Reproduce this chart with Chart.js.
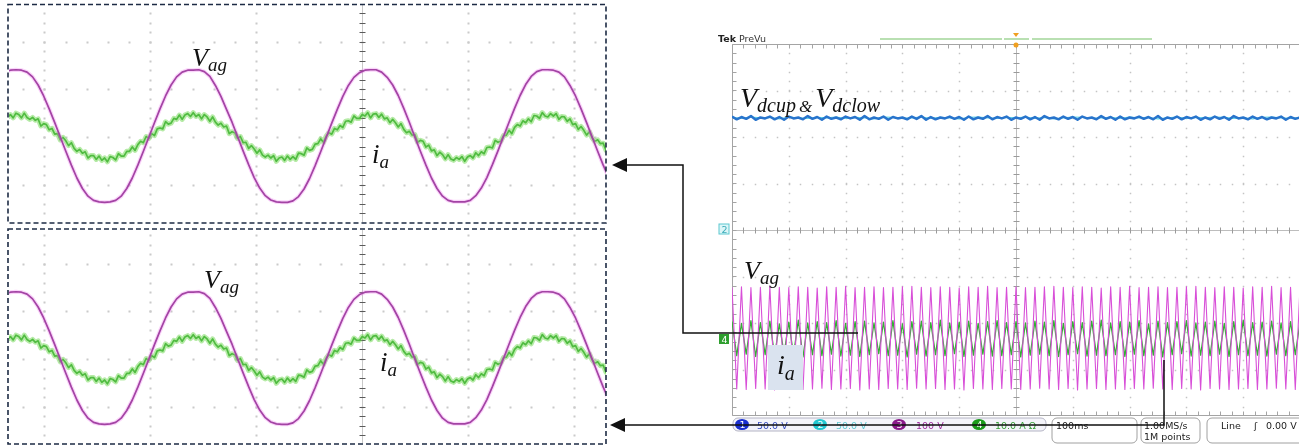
<!DOCTYPE html>
<html>
<head>
<meta charset="utf-8">
<title>Vag / ia waveforms</title>
<script src="https://cdn.jsdelivr.net/npm/chart.js@4.4.1/dist/chart.umd.min.js"></script>
<style>
  html, body { margin: 0; padding: 0; background: #fff; }
  body { position: relative; width: 1299px; height: 446px; overflow: hidden; }
  canvas { position: absolute; }
  #zoomTop { left: 9px; top: 5px; }
  #zoomBottom { left: 9px; top: 230px; }
  #scope { left: 732px; top: 44px; }
  svg { position: absolute; left: 0; top: 0; }
  .lbl { font-family: "Liberation Serif", "Times New Roman", serif; font-style: italic; fill: #111; }
  .ui { font-family: "DejaVu Sans", sans-serif; font-size: 9.5px; }
</style>
</head>
<body>
<canvas id="zoomTop" width="597" height="217"></canvas>
<canvas id="zoomBottom" width="597" height="213"></canvas>
<canvas id="scope" width="568" height="372"></canvas>

<svg width="1299" height="446">
  <!-- zoom windows -->
  <rect x="8" y="4.5" width="598" height="218.5" fill="none" stroke="#1d2b44" stroke-width="1.6" stroke-dasharray="5 3"/>
  <rect x="8" y="229" width="598" height="215" fill="none" stroke="#1d2b44" stroke-width="1.6" stroke-dasharray="5 3"/>

  <text class="lbl" x="192" y="66" font-size="26">V<tspan font-size="19" dy="5">ag</tspan></text>
  <text class="lbl" x="372" y="163" font-size="27">i<tspan font-size="19" dy="5">a</tspan></text>
  <text class="lbl" x="204" y="288" font-size="26">V<tspan font-size="19" dy="5">ag</tspan></text>
  <text class="lbl" x="380" y="371" font-size="27">i<tspan font-size="19" dy="5">a</tspan></text>

  <!-- scope header -->
  <text class="ui" x="718" y="42" font-size="11" font-weight="bold" fill="#222">Tek</text>
  <text class="ui" x="739" y="42" font-size="9" fill="#333">PreVu</text>
  <line x1="880" y1="39" x2="1002" y2="39" stroke="#b9e0b2" stroke-width="2"/>
  <line x1="1004" y1="39" x2="1029" y2="39" stroke="#b9e0b2" stroke-width="2"/>
  <line x1="1032" y1="39" x2="1152" y2="39" stroke="#b9e0b2" stroke-width="2"/>
  <path d="M1013,33 h6 l-3,4 z" fill="#f0a020"/>
  <circle cx="1016" cy="45" r="2.5" fill="#f0a020"/>

  <!-- channel markers -->
  <rect x="719" y="224" width="10" height="10" fill="#dcf6f8" stroke="#5cc8d0"/>
  <text class="ui" x="721.5" y="232.5" font-size="8" fill="#3aaab8">2</text>
  <rect x="719" y="334" width="10" height="10" fill="#2f9f2f"/>
  <text class="ui" x="721.5" y="342.5" font-size="8" fill="#fff">4</text>

  <!-- scope labels -->
  <text class="lbl" x="740" y="107" font-size="28">V<tspan font-size="20" dy="5">dcup</tspan><tspan font-size="17" dx="3">&amp;</tspan><tspan font-size="28" dx="3" dy="-5">V</tspan><tspan font-size="20" dy="5">dclow</tspan></text>
  <text class="lbl" x="744" y="279" font-size="26">V<tspan font-size="19" dy="5">ag</tspan></text>
  <rect x="768" y="345" width="35" height="45" fill="#dae3ef"/>
  <text class="lbl" x="777" y="374" font-size="28">i<tspan font-size="20" dy="6">a</tspan></text>

  <!-- status bar -->
  <rect x="733" y="418" width="313" height="13" rx="5" fill="#f4f4fa" stroke="#b4b4c4"/>
  <ellipse cx="742" cy="424.5" rx="7" ry="5.5" fill="#1a2fd0"/>
  <text class="ui" x="739.5" y="428" font-size="8" fill="#fff">1</text>
  <text class="ui" x="757" y="428.5" fill="#3a4fc0">50.0 V</text>
  <ellipse cx="820" cy="424.5" rx="7" ry="5.5" fill="#22c6d0"/>
  <text class="ui" x="817.5" y="428" font-size="8" fill="#fff">2</text>
  <text class="ui" x="836" y="428.5" fill="#62c8d2">50.0 V</text>
  <ellipse cx="899" cy="424.5" rx="7" ry="5.5" fill="#8a1a8a"/>
  <text class="ui" x="896.5" y="428" font-size="8" fill="#fff">3</text>
  <text class="ui" x="916" y="428.5" fill="#a030a0">100 V</text>
  <ellipse cx="979" cy="424.5" rx="7" ry="5.5" fill="#1a9a1a"/>
  <text class="ui" x="976.5" y="428" font-size="8" fill="#fff">4</text>
  <text class="ui" x="995" y="428.5" fill="#3aa03a">10.0 A Ω</text>
  <rect x="1052" y="418" width="85" height="25" rx="5" fill="none" stroke="#a0a0a0"/>
  <text class="ui" x="1056" y="428.5" fill="#222">100ms</text>
  <rect x="1141" y="418" width="59" height="25" rx="5" fill="none" stroke="#a0a0a0"/>
  <text class="ui" x="1144" y="428.5" fill="#222">1.00MS/s</text>
  <text class="ui" x="1144" y="440" fill="#222">1M points</text>
  <rect x="1207" y="418" width="100" height="25" rx="5" fill="none" stroke="#a0a0a0"/>
  <text class="ui" x="1221" y="428.5" fill="#222">Line</text>
  <text class="ui" x="1254" y="428.5" fill="#222">ʃ</text>
  <text class="ui" x="1266" y="428.5" fill="#222">0.00 V</text>

  <!-- arrows -->
  <polyline points="858,333 683,333 683,165 626,165" fill="none" stroke="#111" stroke-width="1.5"/>
  <polygon points="612,165 627,158 627,172" fill="#111"/>
  <polyline points="1164,360 1164,425 625,425" fill="none" stroke="#111" stroke-width="1.5"/>
  <polygon points="610,425 625,418 625,432" fill="#111"/>
</svg>

<script>
// zoom windows: time in ms (0 = scope centre line), amplitude in grid units
const zoomT0 = -33.74;
const vagStep = 0.5234;
const iaStep = 0.2617;

const vagZoom = [
  1.36, 1.40,
  1.41, 1.40, 1.36, 1.26, 1.09, 0.86, 0.59, 0.30, 0.00, -0.30, -0.59, -0.86, -1.08, -1.24, -1.33, -1.36,
  -1.37, -1.36, -1.33, -1.24, -1.08, -0.86, -0.59, -0.30, 0.00, 0.30, 0.59, 0.86, 1.09, 1.26, 1.36, 1.40,
  1.40, 1.41, 1.37, 1.27, 1.08, 0.85, 0.58, 0.31, 0.01, -0.29, -0.58, -0.85, -1.07, -1.23, -1.32, -1.36,
  -1.37, -1.37, -1.34, -1.25, -1.09, -0.87, -0.60, -0.31, -0.01, 0.29, 0.58, 0.85, 1.08, 1.25, 1.35, 1.40,
  1.41, 1.41, 1.36, 1.25, 1.09, 0.87, 0.60, 0.31, 0.00, -0.30, -0.59, -0.86, -1.08, -1.24, -1.33, -1.36,
  -1.36, -1.36, -1.33, -1.23, -1.07, -0.85, -0.58, -0.29, 0.01, 0.31, 0.60, 0.87, 1.10, 1.27, 1.37, 1.41,
  1.41, 1.40, 1.36, 1.26, 1.08, 0.86, 0.59, 0.30, 0.00, -0.30, -0.59, -0.85, -1.07
];

const iaZoom = [
  .47, .41, .47, .40,
  .50, .47, .40, .50, .41, .37, .41, .35, .38, .23, .28, .26, .15, .18, .06, .07,
  -.06, -.01, -.08, -.18, -.12, -.24, -.30, -.26, -.34, -.31, -.44, -.39, -.39, -.47, -.40, -.49,
  -.44, -.52, -.41, -.43, -.48, -.35, -.40, -.40, -.30, -.30, -.21, -.28, -.16, -.09, -.12, .01,
  -.03, .07, .03, .17, .19, .17, .32, .27, .29, .39, .37, .46, .37, .46, .49, .43,
  .51, .43, .47, .38, .47, .42, .33, .42, .31, .25, .29, .21, .23, .07, .11, .09,
  -.03, .01, -.12, -.11, -.24, -.18, -.25, -.34, -.27, -.38, -.42, -.38, -.44, -.39, -.51, -.44,
  -.42, -.49, -.40, -.47, -.41, -.47, -.34, -.35, -.38, -.23, -.28, -.26, -.15, -.14, -.04, -.11,
  .02, .09, .06, .18, .15, .24, .20, .33, .34, .31, .44, .39, .39, .47, .44, .51,
  .40, .48, .49, .41, .48, .38, .40, .30, .37, .30, .21, .28, .16, .09, .12, .04,
  .05, -.11, -.07, -.09, -.21, -.17, -.29, -.27, -.39, -.32, -.37, -.46, -.37, -.46, -.49, -.43,
  -.47, -.41, -.51, -.42, -.39, -.44, -.33, -.39, -.31, -.35, -.22, -.21, -.23, -.07, -.11, -.09,
  .03, .04, .14, .07, .20, .26, .23, .34, .30, .38, .32, .45, .44, .39, .51, .44,
  .42, .49, .44, .49, .37, .43, .42, .33, .38, .26, .28, .16, .22, .14, .04, .11,
  -.02, -.09, -.06, -.14, -.13, -.28, -.24, -.25, -.36
];

// scope screen: 100 ms/div, values in divisions from centre
const scopeStart = -500;
const scopeCycle = 16.667;

const vagPeaks = [
  -1.23, -1.22, -1.24, -1.23, -1.21, -1.23, -1.24, -1.22, -1.23, -1.25,
  -1.22, -1.23, -1.21, -1.24, -1.23, -1.22, -1.24, -1.23, -1.22, -1.21,
  -1.23, -1.24, -1.22, -1.23, -1.25, -1.22, -1.23, -1.21, -1.24, -1.23,
  -1.22, -1.24, -1.23, -1.22, -1.21, -1.23, -1.24, -1.22, -1.23, -1.25,
  -1.22, -1.23, -1.21, -1.24, -1.23, -1.22, -1.24, -1.23, -1.22, -1.21,
  -1.23, -1.24, -1.22, -1.23, -1.25, -1.22, -1.23, -1.21, -1.24, -1.23,
  -1.22
];
const vagTroughs = [
  -3.42, -3.43, -3.41, -3.42, -3.44, -3.42, -3.41, -3.43, -3.42, -3.40,
  -3.43, -3.42, -3.41, -3.44, -3.42, -3.43, -3.41, -3.42, -3.43, -3.40,
  -3.42, -3.41, -3.43, -3.42, -3.44, -3.41, -3.42, -3.43, -3.41, -3.42,
  -3.43, -3.42, -3.40, -3.42, -3.43, -3.41, -3.44, -3.42, -3.41, -3.43,
  -3.42, -3.43, -3.41, -3.42, -3.40, -3.42, -3.43, -3.41, -3.42, -3.44,
  -3.41, -3.42, -3.43, -3.42, -3.41, -3.43, -3.42, -3.40, -3.42, -3.43
];
const iaPeaks = [
  -1.97, -2.01, -1.95, -1.99, -1.96, -2.02, -1.98, -1.94, -2.00, -1.97,
  -1.99, -1.95, -2.01, -1.97, -1.96, -2.00, -1.98, -1.95, -2.02, -1.97,
  -1.96, -1.99, -1.94, -2.00, -1.98, -1.96, -2.01, -1.97, -1.95, -1.99,
  -1.97, -2.00, -1.96, -1.98, -1.95, -2.01, -1.97, -1.99, -1.96, -1.94,
  -2.00, -1.97, -1.98, -1.95, -2.02, -1.96, -1.99, -1.97, -1.95, -2.00,
  -1.98, -1.96, -2.01, -1.97, -1.94, -1.99, -1.98, -1.96, -2.00, -1.97,
  -1.98
];
const iaTroughs = [
  -2.70, -2.67, -2.72, -2.68, -2.71, -2.66, -2.69, -2.73, -2.68, -2.70,
  -2.67, -2.71, -2.69, -2.72, -2.68, -2.66, -2.70, -2.69, -2.73, -2.67,
  -2.71, -2.68, -2.70, -2.66, -2.72, -2.69, -2.67, -2.71, -2.70, -2.68,
  -2.73, -2.69, -2.67, -2.70, -2.72, -2.68, -2.66, -2.71, -2.69, -2.70,
  -2.68, -2.72, -2.67, -2.70, -2.69, -2.73, -2.68, -2.66, -2.71, -2.69,
  -2.70, -2.67, -2.72, -2.68, -2.70, -2.69, -2.71, -2.67, -2.70, -2.68
];
// one value per half cycle
const vdcUp = [
  2.44, 2.38, 2.43, 2.39, 2.45, 2.37, 2.42, 2.40, 2.44, 2.38,
  2.43, 2.37, 2.44, 2.40, 2.42, 2.38, 2.45, 2.39, 2.43, 2.37,
  2.44, 2.39, 2.42, 2.38, 2.44, 2.40, 2.43, 2.37, 2.45, 2.38,
  2.42, 2.39, 2.44, 2.37, 2.43, 2.40, 2.42, 2.38, 2.44, 2.39,
  2.45, 2.37, 2.43, 2.38, 2.42, 2.40, 2.44, 2.39, 2.43, 2.37,
  2.44, 2.38, 2.42, 2.39, 2.45, 2.38, 2.43, 2.40, 2.44, 2.37,
  2.42, 2.39, 2.44, 2.38, 2.43, 2.37, 2.45, 2.40, 2.42, 2.38,
  2.44, 2.39, 2.43, 2.37, 2.44, 2.40, 2.42, 2.38, 2.45, 2.39,
  2.43, 2.37, 2.44, 2.38, 2.42, 2.40, 2.44, 2.39, 2.43, 2.38,
  2.45, 2.37, 2.42, 2.39, 2.44, 2.38, 2.43, 2.40, 2.44, 2.37,
  2.42, 2.38, 2.44, 2.39, 2.43, 2.37, 2.45, 2.40, 2.42, 2.38,
  2.44, 2.39, 2.43, 2.38, 2.42, 2.40, 2.44, 2.37, 2.43, 2.39,
  2.42
];
// one value per cycle
const vdcLow = [
  2.42, 2.40, 2.43, 2.41, 2.42, 2.39, 2.43, 2.41, 2.40, 2.42,
  2.41, 2.43, 2.40, 2.42, 2.41, 2.39, 2.43, 2.42, 2.40, 2.41,
  2.43, 2.40, 2.42, 2.41, 2.39, 2.42, 2.43, 2.41, 2.40, 2.42,
  2.41, 2.43, 2.40, 2.42, 2.39, 2.41, 2.43, 2.42, 2.40, 2.41,
  2.42, 2.40, 2.43, 2.41, 2.42, 2.39, 2.41, 2.43, 2.40, 2.42,
  2.41, 2.43, 2.42, 2.40, 2.41, 2.39, 2.42, 2.43, 2.41, 2.40,
  2.42
];

// dotted graticule + centre axes, drawn from the chart's own scales
const graticule = {
  id: "graticule",
  beforeDatasetsDraw(chart, args, o) {
    const { ctx, chartArea: a, scales: { x, y } } = chart;
    const px = v => Math.round(x.getPixelForValue(v)) + 0.5;
    const py = v => Math.round(y.getPixelForValue(v)) + 0.5;
    const ys = [], xs = [];
    for (let w = Math.ceil(y.min / o.yMinor) * o.yMinor; w <= y.max + 1e-9; w += o.yMinor) ys.push(w);
    for (let w = Math.ceil(x.min / o.xMinor) * o.xMinor; w <= x.max + 1e-9; w += o.xMinor) xs.push(w);

    ctx.save();
    ctx.fillStyle = o.dotColor;
    const d = o.dot;
    o.xLines.forEach(v => ys.forEach(w => ctx.fillRect(px(v) - d / 2, py(w) - d / 2, d, d)));
    o.yLines.forEach(v => xs.forEach(w => ctx.fillRect(px(w) - d / 2, py(v) - d / 2, d, d)));

    ctx.lineWidth = 1;
    if (o.xAxis !== null) {
      const X = px(o.xAxis);
      ctx.strokeStyle = o.axisColor;
      ctx.beginPath(); ctx.moveTo(X, a.top); ctx.lineTo(X, a.bottom); ctx.stroke();
      ctx.strokeStyle = o.tickColor;
      ctx.beginPath();
      ys.forEach(w => { ctx.moveTo(X - o.tick, py(w)); ctx.lineTo(X + o.tick, py(w)); });
      ctx.stroke();
    }
    if (o.yAxis !== null) {
      const Y = py(o.yAxis);
      ctx.strokeStyle = o.axisColor;
      ctx.beginPath(); ctx.moveTo(a.left, Y); ctx.lineTo(a.right, Y); ctx.stroke();
      ctx.strokeStyle = o.tickColor;
      ctx.beginPath();
      xs.forEach(w => { ctx.moveTo(px(w), Y - o.tick); ctx.lineTo(px(w), Y + o.tick); });
      ctx.stroke();
    }
    if (o.frame) {
      const L = a.left + 0.5, T = a.top + 0.5, B = a.bottom - 0.5;
      ctx.strokeStyle = o.frameColor;
      ctx.beginPath();
      ctx.moveTo(a.right, T); ctx.lineTo(L, T); ctx.lineTo(L, B); ctx.lineTo(a.right, B);
      xs.forEach(w => { ctx.moveTo(px(w), T); ctx.lineTo(px(w), T + o.tick + 1); ctx.moveTo(px(w), B); ctx.lineTo(px(w), B - o.tick - 1); });
      ys.forEach(w => { ctx.moveTo(L, py(w)); ctx.lineTo(L + o.tick + 1, py(w)); });
      ctx.stroke();
    }
    ctx.restore();
  }
};

function baseOptions(xr, yr, grid) {
  return {
    responsive: false,
    animation: false,
    devicePixelRatio: 1,
    events: [],
    layout: { padding: 0 },
    plugins: { legend: { display: false }, tooltip: { enabled: false }, graticule: grid },
    scales: {
      x: { type: "linear", display: false, min: xr[0], max: xr[1] },
      y: { type: "linear", display: false, min: yr[0], max: yr[1] }
    },
    elements: { point: { radius: 0 }, line: { tension: 0, borderJoinStyle: "round" } }
  };
}

const zoomGrid = {
  xLines: [-30, -20, -10, 10, 20], yLines: [-1, 0, 1, 2],
  xMinor: 2, yMinor: 0.2, dot: 2, dotColor: "#cacaca",
  xAxis: 0, yAxis: null, axisColor: "#c8c8c8", tickColor: "#5a5a5a", tick: 3, frame: false
};

const vagPts = vagZoom.map((v, i) => ({ x: zoomT0 + i * vagStep, y: v }));
const iaPts = iaZoom.map((v, i) => ({ x: zoomT0 + i * iaStep, y: v }));

function zoomChart(id, yr) {
  new Chart(document.getElementById(id), {
    type: "line",
    data: {
      datasets: [
        { data: vagPts, borderColor: "rgba(240,120,240,0.32)", borderWidth: 4 },
        { data: vagPts, borderColor: "#7f2a80", borderWidth: 1.7 },
        { data: iaPts, borderColor: "rgba(110,215,80,0.5)", borderWidth: 5 },
        { data: iaPts, borderColor: "#33a033", borderWidth: 1.7 }
      ]
    },
    options: baseOptions([-33.35, 23.05], yr, zoomGrid),
    plugins: [graticule]
  });
}

zoomChart("zoomTop", [-1.782, 2.767]);
zoomChart("zoomBottom", [-1.761, 2.704]);

function zigzag(peaks, troughs) {
  const pts = [];
  peaks.forEach((p, i) => {
    pts.push({ x: scopeStart + i * scopeCycle, y: p });
    if (i < troughs.length) pts.push({ x: scopeStart + (i + 0.5) * scopeCycle, y: troughs[i] });
  });
  return pts;
}

new Chart(document.getElementById("scope"), {
  type: "line",
  data: {
    datasets: [
      { data: vdcUp.map((v, i) => ({ x: scopeStart + i * scopeCycle / 2, y: v })), borderColor: "#2874cc", borderWidth: 2.5 },
      { data: vdcLow.map((v, i) => ({ x: scopeStart + i * scopeCycle, y: v })), borderColor: "#5ad2e6", borderWidth: 1.2 },
      { data: zigzag(vagPeaks, vagTroughs), borderColor: "#d84fd8", borderWidth: 1.1 },
      { data: zigzag(iaPeaks, iaTroughs), borderColor: "#36ae36", borderWidth: 1.3 }
    ]
  },
  options: baseOptions([-500, 500], [-4, 4], {
    xLines: [-400, -300, -200, -100, 100, 200, 300, 400], yLines: [-3, -2, -1, 1, 2, 3],
    xMinor: 20, yMinor: 0.2, dot: 1.5, dotColor: "#c4c4c4",
    xAxis: 0, yAxis: 0, axisColor: "#bdbdbd", tickColor: "#9a9a9a", tick: 3,
    frame: true, frameColor: "#a4a4a4"
  }),
  plugins: [graticule]
});
</script>
</body>
</html>
